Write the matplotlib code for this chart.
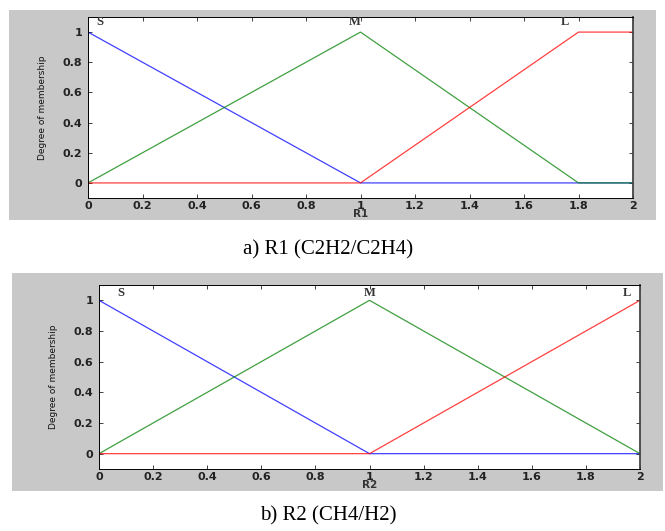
import matplotlib
matplotlib.use("Agg")
import matplotlib.pyplot as plt
from matplotlib.patches import Rectangle
from matplotlib import font_manager

# membership functions, breakpoints
r1_x_S = [0, 1, 2]
r1_S = [1, 0, 0]
r1_x_M = [0, 1, 1.8, 2]
r1_M = [0, 1, 0, 0]
r1_x_L = [0, 1, 1.8, 2]
r1_L = [0, 0, 1, 1]

r2_x_S = [0, 1, 2]
r2_S = [1, 0, 0]
r2_x_M = [0, 1, 2]
r2_M = [0, 1, 0]
r2_x_L = [0, 1, 2]
r2_L = [0, 0, 1]

xticks = [0, 0.2, 0.4, 0.6, 0.8, 1, 1.2, 1.4, 1.6, 1.8, 2]
xticklabels = ["0", "0.2", "0.4", "0.6", "0.8", "1", "1.2", "1.4", "1.6", "1.8", "2"]
yticks = [0, 0.2, 0.4, 0.6, 0.8, 1]
yticklabels = ["0", "0.2", "0.4", "0.6", "0.8", "1"]

names = {f.name for f in font_manager.fontManager.ttflist}
narrow = "Liberation Sans Narrow" if "Liberation Sans Narrow" in names else "DejaVu Sans"

W, H = 665, 531
fig = plt.figure(figsize=(6.65, 5.31), dpi=100)
fig.patch.set_facecolor("white")

def px(l, t, r, b):
    return [l / W, 1 - b / H, (r - l) / W, (b - t) / H]

# grey frames behind the axes (matlab figure look)
for (l, t, r, b) in [(9, 10, 656, 220), (12, 273, 663, 491)]:
    fig.patches.append(Rectangle((l / W, 1 - b / H), (r - l) / W, (b - t) / H,
                                 transform=fig.transFigure, facecolor="#c8c8c8",
                                 edgecolor="none", zorder=-5))

def draw(ax, curves, xlabel, lab_pos):
    for xs, ys, c in curves:
        ax.plot(xs, ys, color=c, lw=0.9, alpha=0.75)
    ax.set_xlim(0, 2)
    ax.set_ylim(-0.1, 1.1)
    ax.set_xticks(xticks)
    ax.set_xticklabels(xticklabels)
    ax.set_yticks(yticks)
    ax.set_yticklabels(yticklabels)
    ax.tick_params(direction="in", length=3, width=0.6, top=True, right=True,
                   labelsize=8, pad=4, colors="#222222")
    ax.tick_params(axis="x", pad=2)
    for t in ax.get_xticklabels() + ax.get_yticklabels():
        t.set_fontweight("bold")
    ax.set_xlabel(xlabel, fontsize=7.5, fontweight="bold", labelpad=-1, color="#333333")
    ax.set_ylabel("Degree of membership", fontsize=6.5, family=narrow,
                  labelpad=11, color="#111111")
    for s in ax.spines.values():
        s.set_linewidth(0.7)
    ax.spines["right"].set_linewidth(1.3)
    ax.spines["right"].set_color("#444444")
    for name, (x, y) in zip(["S", "M", "L"], lab_pos):
        ax.text(x, y, name, fontsize=9, fontweight="bold", family="Liberation Serif",
                ha="center", va="center", color="#333333")

ax1 = fig.add_axes(px(88, 17, 633, 198))
draw(ax1, [(r1_x_S, r1_S, "#0000ff"), (r1_x_M, r1_M, "#008000"),
           (r1_x_L, r1_L, "#ff0000")], "R1",
     [(0.045, 1.065), (0.98, 1.065), (1.75, 1.065)])

ax2 = fig.add_axes(px(99, 285, 640, 469))
draw(ax2, [(r2_x_S, r2_S, "#0000ff"), (r2_x_M, r2_M, "#008000"),
           (r2_x_L, r2_L, "#ff0000")], "R2",
     [(0.08, 1.05), (1.0, 1.05), (1.95, 1.05)])

fig.text(328 / W, 1 - 250 / H, "a) R1 (C2H2/C2H4)", family="Liberation Serif",
         fontsize=15, ha="center", va="center")
fig.text(328 / W, 1 - 516 / H, "b) R2 (CH4/H2)", family="Liberation Serif",
         fontsize=15, ha="center", va="center")

fig.savefig("out.png", dpi=100)
